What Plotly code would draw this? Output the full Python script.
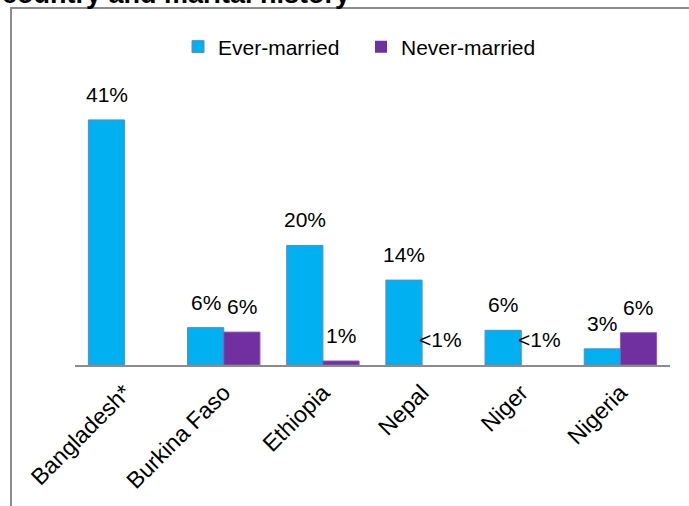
import plotly.graph_objects as go

categories = ["Bangladesh*", "Burkina Faso", "Ethiopia", "Nepal", "Niger", "Nigeria"]
ever_married = [41, 6.25, 20, 14.2, 5.8, 2.7]
never_married = [None, 5.5, 0.67, 0, 0, 5.4]
ever_labels = ["41%", "6%", "20%", "14%", "6%", "3%"]
never_labels = ["", "6%", "1%", "<1%", "<1%", "6%"]
title_text = "country and marital history"

FONT = "Liberation Sans, Arial, sans-serif"
BLUE = "#00B0F0"
PURPLE = "#7030A0"

W, H = 689, 506
L, R, T, B = 75, 19, 96, 141
plot_h = H - T - B
plot_w = W - L - R


def px_to_paper_x(px):
    return (px - L) / plot_w


def px_to_paper_y(py):
    return (H - B - py) / plot_h


fig = go.Figure()
fig.add_trace(go.Bar(
    name="Ever-married", x=categories, y=ever_married,
    marker=dict(color=BLUE, line=dict(color="#5B8AC6", width=1)),
))
fig.add_trace(go.Bar(
    name="Never-married", x=categories, y=never_married,
    marker=dict(color=PURPLE,
                line=dict(color="#8A5CB8",
                          width=[0 if (v is None or v == 0) else 1 for v in never_married])),
))

annotations = []
for cat, v, lab in zip(categories, ever_married, ever_labels):
    if lab:
        annotations.append(dict(x=cat, y=v, xref="x", yref="y", text=lab,
                                showarrow=False, yanchor="bottom", xanchor="center",
                                xshift=-18, yshift=12,
                                font=dict(family=FONT, size=21, color="black")))
for cat, v, lab in zip(categories, never_married, never_labels):
    if lab:
        annotations.append(dict(x=cat, y=v or 0, xref="x", yref="y", text=lab,
                                showarrow=False, yanchor="bottom", xanchor="center",
                                xshift=18, yshift=12,
                                font=dict(family=FONT, size=21, color="black")))

annotations.append(dict(x=px_to_paper_x(0), y=px_to_paper_y(11.5), xref="paper", yref="paper",
                        text="<b>" + title_text + "</b>", showarrow=False,
                        xanchor="left", yanchor="bottom",
                        font=dict(family=FONT, size=27, color="black")))

fig.update_layout(
    width=W, height=H,
    margin=dict(l=L, r=R, t=T, b=B, pad=0, autoexpand=False),
    paper_bgcolor="white", plot_bgcolor="white",
    barmode="group", bargap=0.27, bargroupgap=0,
    font=dict(family=FONT, size=21, color="black"),
    showlegend=True,
    legend=dict(orientation="h", x=px_to_paper_x(178), xanchor="left",
                y=px_to_paper_y(47), yanchor="middle",
                entrywidth=138, entrywidthmode="pixels",
                font=dict(family=FONT, size=21, color="black"),
                bgcolor="rgba(0,0,0,0)"),
    xaxis=dict(showline=True, linecolor="#8C8C8C", linewidth=2, ticks="",
               tickangle=-45, tickfont=dict(family=FONT, size=23, color="black"),
               ticklabelstandoff=3, automargin=False,
               showgrid=False, zeroline=False),
    yaxis=dict(range=[0, 45], visible=False, showgrid=False, zeroline=False,
               automargin=False),
    annotations=annotations,
    shapes=[dict(type="rect", xref="paper", yref="paper",
                 x0=px_to_paper_x(11), x1=px_to_paper_x(800),
                 y0=px_to_paper_y(700), y1=px_to_paper_y(8),
                 line=dict(color="#8C8C8C", width=2), fillcolor="rgba(0,0,0,0)",
                 layer="below")],
)

fig.write_html("out.html", config={"displayModeBar": False},
               post_script="document.body.style.margin='0';document.body.style.padding='0';")
